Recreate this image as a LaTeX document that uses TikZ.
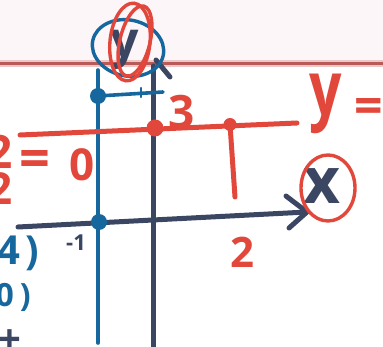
\documentclass[tikz,border=0pt]{standalone}
\usepackage{fontspec}
\setmainfont{Open Sans}
\definecolor{inkred}{HTML}{E2473B}
\definecolor{inknavy}{HTML}{3B4663}
\definecolor{inkblue}{HTML}{17679F}
\definecolor{bandpink}{HTML}{FDF6F9}
\definecolor{sepred}{HTML}{B85A5A}
\definecolor{sephalo}{HTML}{EDC6C6}
\begin{document}
\begin{tikzpicture}[x=1pt,y=-1pt,
  navyline/.style={draw=inknavy,line width=5pt,line cap=round,line join=round},
  blueline/.style={draw=inkblue,line width=3.6pt,line cap=round,line join=round},
  redline/.style={draw=inkred,line width=5pt,line cap=round,line join=round},
  loop/.style={line width=3.4pt},
  hand/.style={inner sep=0pt,font=\bfseries},
  dot/.style={circle,inner sep=0pt}]
\useasboundingbox (0,0) rectangle (383,347);
\clip (0,0) rectangle (383,347);
% page separator band
\fill[bandpink] (0,0) rectangle (383,61);
\draw[sephalo,line width=7pt] (-5,63.5) -- (390,63.5);
\draw[sepred,line width=2.2pt] (-5,63.5) -- (390,63.5);

% coordinates
\coordinate (ytip) at (156,60);
\coordinate (ybot) at (153,352);
\coordinate (yarmR) at (170,77);
\coordinate (xleft) at (18,227);
\coordinate (xtip) at (307,212);
\coordinate (xarmU) at (286,196);
\coordinate (xarmD) at (289,228);
\coordinate (btop) at (98,70);
\coordinate (bbot) at (98,343);
\coordinate (bend) at (163,92);
\coordinate (ticktop) at (141,88);
\coordinate (tickbot) at (141,97);
\coordinate (rleft) at (20,135);
\coordinate (rright) at (297,123);
\coordinate (rvbot) at (235,197);

% axes
\draw[navyline] (ybot) -- (153,66);
\draw[navyline] (ytip) -- (yarmR);
\draw[navyline] (xleft) -- (xtip);
\draw[navyline] (xarmU) -- (xtip) -- (xarmD);

% blue construction
\draw[blueline] (btop) -- (bbot);
\node[dot,fill=inkblue,minimum size=16pt] (bdot1) at (98,96) {};
\node[dot,fill=inkblue,minimum size=16pt] (bdot2) at (99,222) {};
\draw[blueline] (bdot1.center) -- (bend);
\draw[blueline,line width=2.4pt] (ticktop) -- (tickbot);

% red line y = 3
\draw[redline] (rleft) -- (rright);
\node[dot,fill=inkred,minimum size=17pt] (rdot1) at (155,128) {};
\node[dot,fill=inkred,minimum size=13pt] (rdot2) at (230,124.5) {};
\draw[redline] (rdot2.center) -- (rvbot);

% axis labels
\node[hand,text=inknavy,font=\fontsize{50}{50}\selectfont\bfseries] (ylab) at (125,50) {y};
\draw[inkblue,loop,rotate around={-12:(128,48)}] (128,48) ellipse [x radius=36pt,y radius=28pt];
\draw[inkred,loop,rotate around={-6:(130,42)}] (130,42) ellipse [x radius=20pt,y radius=39pt];
\draw[inkred,loop,rotate around={-14:(135,41)}] (135,41) ellipse [x radius=15pt,y radius=36pt];

\node[hand,text=inknavy,font=\fontsize{64}{64}\selectfont\bfseries] (xlab) at (322,186) {x};
\draw[inkred,loop] (328,188) ellipse [x radius=27pt,y radius=33pt];

% numbers
\node[hand,text=inkred,font=\fontsize{46}{46}\selectfont\bfseries] (three) at (182,112) {3};
\node[hand,text=inkred,font=\fontsize{42}{42}\selectfont\bfseries] (two) at (242,252) {2};
\node[hand,text=inknavy,font=\fontsize{22}{22}\selectfont\bfseries] (mone) at (76,243) {-1};

% right: y =
\node[hand,text=inkred,font=\fontsize{76}{76}\selectfont\bfseries,xscale=0.75] (ry) at (326,104) {y};
\node[hand,text=inkred,font=\fontsize{50}{50}\selectfont\bfseries,anchor=west] (req) at (354,111) {=};

% left: fragments
\node[hand,text=inkred,font=\fontsize{46}{46}\selectfont\bfseries,anchor=east] (ltwo1) at (13,152) {2};
\node[hand,text=inkred,font=\fontsize{44}{44}\selectfont\bfseries,anchor=east] (ltwo2) at (13,189) {2};
\node[hand,text=inkred,font=\fontsize{54}{54}\selectfont\bfseries] (leq) at (35,164) {=};
\node[hand,text=inkred,font=\fontsize{44}{44}\selectfont\bfseries] (lzero) at (82,165) {0};
\node[hand,text=inkblue,font=\fontsize{40}{40}\selectfont\bfseries,anchor=east] (lfour) at (39,253) {4\hspace{5pt})};
\node[hand,text=inkblue,font=\fontsize{32}{32}\selectfont\bfseries,anchor=east] (lnil) at (31,297) {0\hspace{6pt})};
\node[hand,text=inknavy,font=\fontsize{40}{40}\selectfont\bfseries] (lplus) at (10,342) {+};
\end{tikzpicture}
\end{document}
